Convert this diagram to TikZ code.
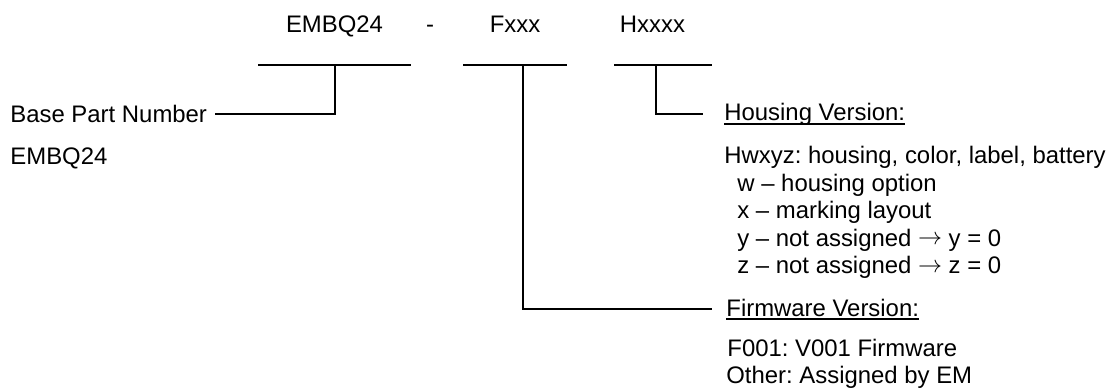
\documentclass[tikz,border=0pt]{standalone}
\usepackage{fontspec}
\setmainfont{Liberation Sans}
\frenchspacing
\newcommand{\myarr}{\raisebox{0.8pt}{\fontsize{12}{12}\selectfont$\rightarrow$}}
\begin{document}
\begin{tikzpicture}[x=0.5pt,y=-0.5pt,
  txt/.style={inner sep=0pt,anchor=base west,font=\fontsize{11.95}{13.75}\selectfont},
  ctxt/.style={inner sep=0pt,anchor=base,font=\fontsize{11.95}{13.75}\selectfont},
  ln/.style={line width=1pt},
  ul/.style={line width=0.75pt}]
\useasboundingbox (0,0) rectangle (1110,390);
% top part number
\node[ctxt] (pn) at (334.5,33) {EMBQ24};
\node[ctxt] (dash) at (430,33) {-};
\node[ctxt] (fw) at (515,33) {Fxxx};
\node[ctxt] (hw) at (652.5,33) {Hxxxx};
% bars
\coordinate (b1l) at (258,65); \coordinate (b1r) at (411,65); \coordinate (b1m) at (335,65);
\coordinate (b2l) at (463,65); \coordinate (b2r) at (567,65); \coordinate (b2m) at (523,65);
\coordinate (b3l) at (614,65); \coordinate (b3r) at (712,65); \coordinate (b3m) at (656,65);
\draw[ln] (b1l) -- (b1r);
\draw[ln] (b2l) -- (b2r);
\draw[ln] (b3l) -- (b3r);
% base part number
\node[txt] (base) at (10,123) {Base Part Number};
\node[txt] (basev) at (10,165) {EMBQ24};
\coordinate (baseend) at (215,114);
\draw[ln] (b1m) |- (baseend);
% housing
\node[txt] (hv) at (724,121) {Housing Version:};
\draw[ul] ([yshift=-1.6pt]hv.base west) -- ([yshift=-1.6pt]hv.base east);
\coordinate (hvend) at (703,114);
\draw[ln] (b3m) |- (hvend);
\node[txt] (h1) at (724,164) {Hwxyz: housing, color, label, battery};
\node[txt] (h2) at (737,191.5) {w -- housing option};
\node[txt] (h3) at (737,219) {x -- marking layout};
\node[txt] (h4) at (737,246.5) {y -- not assigned \myarr{} y = 0};
\node[txt] (h5) at (737,274) {z -- not assigned \myarr{} z = 0};
% firmware
\node[txt] (fv) at (726,316) {Firmware Version:};
\draw[ul] ([yshift=-1.6pt]fv.base west) -- ([yshift=-1.6pt]fv.base east);
\coordinate (fvend) at (712,309);
\draw[ln] (b2m) |- (fvend);
\node[txt] (f1) at (727,357) {F001: V001 Firmware};
\node[txt] (f2) at (726,383) {Other: Assigned by EM};
\end{tikzpicture}
\end{document}
